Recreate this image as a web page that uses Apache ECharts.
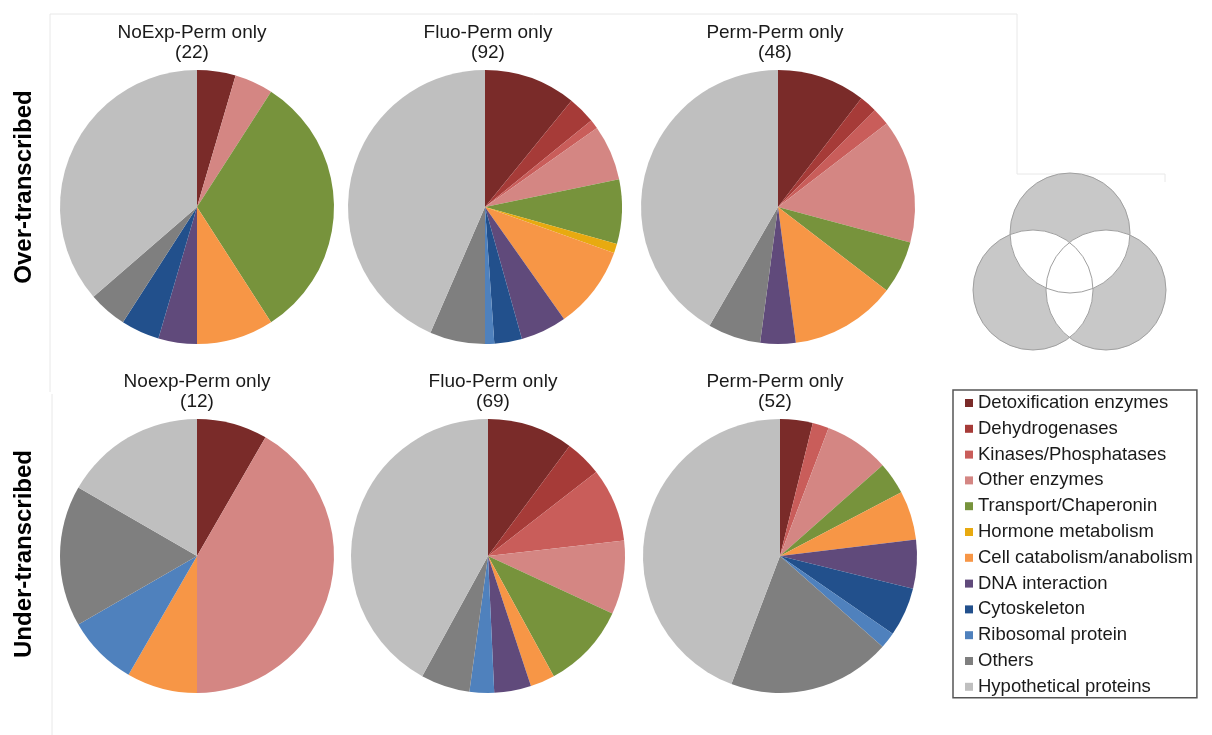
<!DOCTYPE html>
<html>
<head>
<meta charset="utf-8">
<script src="https://cdn.jsdelivr.net/npm/echarts@6/dist/echarts.min.js"></script>
<style>
  html, body { margin: 0; padding: 0; background: #fff; }
  #chart { width: 1212px; height: 735px; }
</style>
</head>
<body>
<div id="chart"></div>
<script>
// categories, in legend order
var categories = [
  'Detoxification enzymes', 'Dehydrogenases', 'Kinases/Phosphatases', 'Other enzymes',
  'Transport/Chaperonin', 'Hormone metabolism', 'Cell catabolism/anabolism', 'DNA interaction',
  'Cytoskeleton', 'Ribosomal protein', 'Others', 'Hypothetical proteins'
];
var colors = [
  '#7a2b29', '#a63b38', '#c95d5a', '#d48683',
  '#77933c', '#e8aa10', '#f79646', '#604a7b',
  '#22508c', '#4f81bd', '#7f7f7f', '#bfbfbf'
];

// gene counts per pie (same order as categories)
var overNoExp = [1, 0, 0, 1, 7, 0, 2, 1, 1, 0, 1, 8];
var overFluo  = [10, 3, 1, 6, 7, 1, 9, 5, 3, 1, 6, 40];
var overPerm  = [5, 1, 1, 7, 3, 0, 6, 2, 0, 0, 3, 20];
var underNoExp = [1, 0, 0, 5, 0, 0, 1, 0, 0, 1, 2, 2];
var underFluo  = [7, 3, 6, 6, 7, 0, 2, 3, 0, 2, 4, 29];
var underPerm  = [2, 0, 1, 4, 2, 0, 3, 3, 3, 1, 10, 23];

var pieTitles = ['NoExp-Perm only', 'Fluo-Perm only', 'Perm-Perm only',
                 'Noexp-Perm only', 'Fluo-Perm only', 'Perm-Perm only'];
var pieTotals = [22, 92, 48, 12, 69, 52];
var rowLabels = ['Over-transcribed', 'Under-transcribed'];

var FONT = '"Liberation Sans", Arial, sans-serif';

var pies = [
  { vals: overNoExp,  c: [197, 207], t: [192, 23] },
  { vals: overFluo,   c: [485, 207], t: [488, 23] },
  { vals: overPerm,   c: [778, 207], t: [775, 23] },
  { vals: underNoExp, c: [197, 556], t: [197, 372] },
  { vals: underFluo,  c: [488, 556], t: [493, 372] },
  { vals: underPerm,  c: [780, 556], t: [775, 372] }
];

var series = pies.map(function (p, i) {
  var data = [];
  p.vals.forEach(function (v, k) {
    if (v > 0) data.push({ name: categories[k], value: v, itemStyle: { color: colors[k] } });
  });
  return {
    type: 'pie',
    name: pieTitles[i],
    center: p.c,
    radius: 137,
    startAngle: 90,
    clockwise: true,
    label: { show: false },
    labelLine: { show: false },
    itemStyle: { borderWidth: 0 },
    emphasis: { disabled: true },
    animation: false,
    data: data
  };
});

var graphics = [];

// faint frame lines of the original panels
var frame = [
  [50, 14, 1017, 14], [1017, 14, 1017, 174], [1017, 174, 1165, 174], [1165, 174, 1165, 182],
  [50, 14, 50, 392], [52, 394, 52, 735]
];
frame.forEach(function (l) {
  graphics.push({ type: 'line', shape: { x1: l[0], y1: l[1], x2: l[2], y2: l[3] },
    style: { stroke: '#e8e8e8', lineWidth: 1 }, silent: true });
});

// pie titles
pies.forEach(function (p, i) {
  graphics.push({
    type: 'text', x: p.t[0], y: p.t[1], silent: true,
    style: {
      text: pieTitles[i] + '\n(' + pieTotals[i] + ')',
      align: 'center', verticalAlign: 'top',
      fontFamily: FONT, fontSize: 19, lineHeight: 20, fill: '#1a1a1a'
    }
  });
});

// row labels
[[24, 187], [24, 554]].forEach(function (pos, i) {
  graphics.push({
    type: 'text', x: pos[0], y: pos[1], rotation: Math.PI / 2, silent: true,
    style: {
      text: rowLabels[i], align: 'center', verticalAlign: 'middle',
      fontFamily: FONT, fontSize: 24, fontWeight: 'bold', fill: '#000'
    }
  });
});

// Venn diagram: only the single-set regions are shaded
var R = 60;
var vc = [[1070, 233], [1033, 290], [1106, 290]];
vc.forEach(function (c) {
  graphics.push({ type: 'circle', shape: { cx: c[0], cy: c[1], r: R },
    style: { fill: '#c8c8c8' }, silent: true });
});
function arcPts(c, a0, a1, n) {
  var pts = [];
  for (var s = 0; s <= n; s++) {
    var a = a0 + (a1 - a0) * s / n;
    pts.push([c[0] + R * Math.cos(a), c[1] + R * Math.sin(a)]);
  }
  return pts;
}
function lens(a, b) {
  var dx = b[0] - a[0], dy = b[1] - a[1];
  var d = Math.sqrt(dx * dx + dy * dy);
  var half = Math.acos(d / 2 / R);
  var ang = Math.atan2(dy, dx);
  // arc of circle a facing b, then arc of circle b facing a
  return arcPts(a, ang - half, ang + half, 40).concat(arcPts(b, ang + Math.PI - half, ang + Math.PI + half, 40));
}
[[0, 1], [0, 2], [1, 2]].forEach(function (pr) {
  graphics.push({ type: 'polygon', shape: { points: lens(vc[pr[0]], vc[pr[1]]) },
    style: { fill: '#ffffff' }, silent: true });
});
vc.forEach(function (c) {
  graphics.push({ type: 'circle', shape: { cx: c[0], cy: c[1], r: R },
    style: { fill: 'none', stroke: '#a0a0a0', lineWidth: 1 }, silent: true });
});

var chart = echarts.init(document.getElementById('chart'));
chart.setOption({
  backgroundColor: '#fff',
  animation: false,
  legend: {
    data: categories,
    orient: 'vertical',
    left: 953,
    top: 390,
    padding: [3, 4, 1, 12],
    itemWidth: 8,
    itemHeight: 8,
    itemGap: 5.8,
    icon: 'rect',
    selectedMode: false,
    borderColor: '#555',
    borderWidth: 1.5,
    textStyle: { fontFamily: FONT, fontSize: 18.5, lineHeight: 20, color: '#1a1a1a' }
  },
  graphic: graphics,
  series: series
});
</script>
</body>
</html>
